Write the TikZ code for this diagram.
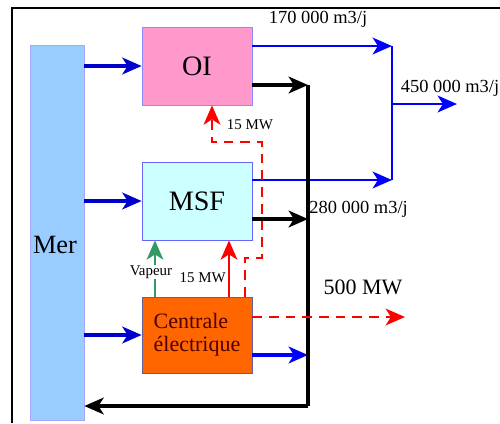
\documentclass[tikz,border=0pt]{standalone}
\usepackage{fontspec}
\setmainfont{Liberation Serif}
\usetikzlibrary{positioning, arrows.meta, calc}

\definecolor{merblue}{RGB}{153,204,255}
\definecolor{oipink}{RGB}{255,153,204}
\definecolor{msfcyan}{RGB}{204,255,255}
\definecolor{ceorange}{RGB}{255,102,0}
\definecolor{vapgreen}{RGB}{51,153,102}
\definecolor{seablue}{RGB}{0,0,205}

\begin{document}
\begin{tikzpicture}[
  x=0.02cm, y=-0.02cm,
  unitbox/.style={
    minimum width=2.2cm, minimum height=1.56cm,
    inner sep=0pt, align=center,
    font=\fontsize{16}{18}\selectfont,
  },
  oibox/.style={unitbox, draw=blue!45, fill=oipink},
  msfbox/.style={unitbox, draw=blue!60, fill=msfcyan},
  cebox/.style={unitbox, minimum height=1.52cm, draw=blue!25!gray,
    fill=ceorange, align=left, text=black!70!red,
    font=\fontsize{12.5}{13}\selectfont},
  merbox/.style={minimum width=1.08cm, minimum height=7.5cm,
    inner sep=0pt, draw=blue!35, fill=merblue},
  merlbl/.style={font=\fontsize{15}{17}\selectfont},
  flowlbl/.style={font=\fontsize{10.5}{12}\selectfont, inner sep=0pt},
  powerlbl/.style={font=\fontsize{12.5}{14}\selectfont, inner sep=0pt},
  smalllbl/.style={font=\fontsize{8.5}{10}\selectfont, inner sep=0.5pt},
  tipA/.style={-{Stealth[length=11pt, width=9.5pt, inset=3pt]}},
  seaarr/.style={tipA, line width=2.2pt, color=seablue},
  prodarr/.style={tipA, line width=1.6pt, color=blue},
  prodline/.style={line width=1.6pt, color=blue},
  brinearr/.style={tipA, line width=2.2pt, color=black},
  brineline/.style={line width=1.8pt, color=black},
  elecarr/.style={tipA, line width=1.4pt, color=red},
  elecdash/.style={elecarr, dash pattern=on 5.5pt off 4pt},
  vaparr/.style={tipA, line width=1.4pt, color=vapgreen},
]

\useasboundingbox (0,0) rectangle (500,423);

% ---- Frame ----
\draw[line width=1.3pt] (12,423) -- (12,8) -- (500,8);

% ---- Units ----
\node[merbox] (boxMer) at (57,232.5) {};
\node[merlbl] (txtMer) at (55,245) {Mer};
\node[oibox] (boxOI) at (197,66) {OI};
\node[msfbox] (boxMSF) at (197,201) {MSF};
\node[cebox] (boxCE) at (197,335) {Centrale\\électrique};

% ---- Junction points ----
\coordinate (pTop) at (392,46);
\coordinate (pBot) at (392,180);
\coordinate (pMid) at (392,104);
\coordinate (pOut) at (457,104);
\coordinate (rTop) at (308,85);
\coordinate (rMSF) at (308,219);
\coordinate (rCE) at (308,355);
\coordinate (rBot) at (308,406);
\coordinate (eOut) at (405,317);
\coordinate (kVap) at (155,0);
\coordinate (kMSF) at (229,0);
\coordinate (kA) at (245,258);
\coordinate (kB) at (262,142);
\coordinate (kC) at (212,142);

% ---- Sea water intake ----
\draw[seaarr] (boxMer.east |- boxOI) -- (boxOI.west);
\draw[seaarr] (boxMer.east |- boxMSF) -- (boxMSF.west);
\draw[seaarr] (boxMer.east |- boxCE) -- (boxCE.west);

% ---- Fresh water ----
\draw[prodarr] (boxOI.east |- pTop) -- (pTop);
\draw[prodarr] (boxMSF.east |- pBot) -- (pBot);
\draw[prodline] (pTop) -- (pBot);
\draw[prodarr] (pMid) -- (pOut);
\node[flowlbl] (lblOIw) at (318,19) {170 000 m3/j};
\node[flowlbl] (lblTot) at (450,88) {450 000 m3/j};
\node[flowlbl, anchor=west] (lblMSF) at (309,209) {280 000 m3/j};

% ---- Brine back to the sea ----
\draw[brinearr] (boxOI.east |- rTop) -- (rTop);
\draw[brinearr] (boxMSF.east |- rMSF) -- (rMSF);
\draw[seaarr, line width=1.8pt, color=blue] (boxCE.east |- rCE) -- (rCE);
\draw[brineline] (rTop) -- (rBot);
\draw[brinearr, line width=1.8pt] (rBot) -- (boxMer.east |- rBot);

% ---- Power and steam ----
\draw[elecdash] (boxCE.east |- eOut) -- (eOut);
\node[powerlbl] (lblPow) at (363,287) {500 MW};
\draw[elecdash] (boxCE.north -| kA) -- (kA) -| (kB) -- (kC)
  -- (boxOI.south -| kC);
\node[smalllbl] (lblOI) at (250,125) {15 MW};
\draw[elecarr] (boxCE.north -| kMSF) -- (boxMSF.south -| kMSF);
\node[smalllbl, anchor=east] (lblMSFp) at (227,278) {15 MW};
\draw[vaparr] (boxCE.north -| kVap) -- (boxMSF.south -| kVap);
\node[smalllbl, fill=white] (lblVap) at (151,272) {Vapeur};

\end{tikzpicture}
\end{document}
